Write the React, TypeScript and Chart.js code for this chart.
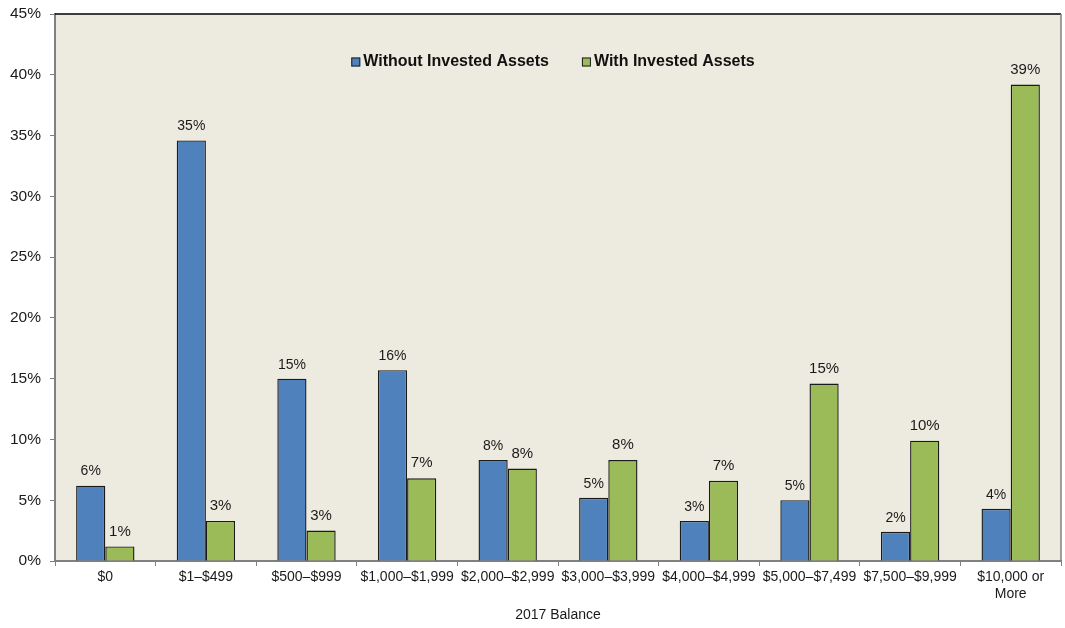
import { useEffect, useRef } from "react";
import { Chart, registerables } from "chart.js";

Chart.register(...registerables);

const categories: (string | string[])[] = [
  "$0",
  "$1–$499",
  "$500–$999",
  "$1,000–$1,999",
  "$2,000–$2,999",
  "$3,000–$3,999",
  "$4,000–$4,999",
  "$5,000–$7,499",
  "$7,500–$9,999",
  ["$10,000 or", "More"],
];

const withoutInvested = [6.2, 34.6, 15.0, 15.7, 8.3, 5.2, 3.3, 5.0, 2.4, 4.3];
const withInvested = [1.2, 3.3, 2.5, 6.8, 7.6, 8.3, 6.6, 14.6, 9.9, 39.2];

const seriesNames = ["Without Invested Assets", "With Invested Assets"];
const seriesColors = ["#4F81BD", "#9BBB59"];
const labelFontSizes = [14, 15];
const xTitle = "2017 Balance";

const FONT = '"Liberation Sans", Arial, Helvetica, sans-serif';

const backgroundPlugin = {
  id: "bgPlugin",
  beforeDraw(chart: any) {
    const { ctx, chartArea } = chart;
    ctx.save();
    ctx.fillStyle = "#EDEAE0";
    ctx.fillRect(chartArea.left, chartArea.top, chartArea.right - chartArea.left, chartArea.bottom - chartArea.top);
    ctx.restore();
  },
  afterDraw(chart: any) {
    const { ctx, chartArea } = chart;
    ctx.save();
    ctx.strokeStyle = "#000000";
    ctx.lineWidth = 1.5;
    ctx.beginPath();
    ctx.moveTo(chartArea.left, chartArea.top);
    ctx.lineTo(chartArea.right, chartArea.top);
    ctx.stroke();
    ctx.strokeStyle = "#808080";
    ctx.lineWidth = 1.5;
    ctx.beginPath();
    ctx.moveTo(chartArea.right, chartArea.top);
    ctx.lineTo(chartArea.right, chartArea.bottom);
    ctx.stroke();
    ctx.restore();
  },
};

const labelsPlugin = {
  id: "labelsPlugin",
  afterDatasetsDraw(chart: any) {
    const { ctx } = chart;
    ctx.save();
    ctx.fillStyle = "#1a1a1a";
    ctx.textAlign = "center";
    ctx.textBaseline = "middle";
    chart.data.datasets.forEach((ds: any, di: number) => {
      const meta = chart.getDatasetMeta(di);
      const size = labelFontSizes[di];
      ctx.font = `${size}px ${FONT}`;
      meta.data.forEach((bar: any, i: number) => {
        const v = ds.data[i];
        const offset = di === 0 ? 14 : 15;
        ctx.fillText(Math.round(v) + "%", bar.x, bar.y - offset);
      });
    });
    ctx.restore();
  },
};

const legendPlugin = {
  id: "legendPlugin",
  afterDraw(chart: any) {
    const { ctx, chartArea } = chart;
    ctx.save();
    ctx.font = `bold 16px ${FONT}`;
    ctx.textBaseline = "middle";
    ctx.textAlign = "left";
    const box = 9;
    const gapBoxText = 3;
    const itemGap = 33;
    const widths = seriesNames.map((n) => ctx.measureText(n).width);
    const total = widths.reduce((a, w) => a + box + gapBoxText + w, 0) + itemGap * (seriesNames.length - 1);
    let x = (chartArea.left + chartArea.right) / 2 - 5 - total / 2;
    const y = 62;
    seriesNames.forEach((name, i) => {
      ctx.fillStyle = seriesColors[i];
      ctx.fillRect(x, y - box / 2, box, box);
      ctx.strokeStyle = "#1f1f1f";
      ctx.lineWidth = 1;
      ctx.strokeRect(x + 0.5, y - box / 2 + 0.5, box - 1, box - 1);
      ctx.fillStyle = "#111111";
      ctx.fillText(name, x + box + gapBoxText, y);
      x += box + gapBoxText + widths[i] + itemGap;
    });
    ctx.restore();
  },
};

export default function App() {
  const canvasRef = useRef<HTMLCanvasElement | null>(null);

  useEffect(() => {
    if (!canvasRef.current) return;
    const chart = new Chart(canvasRef.current, {
      type: "bar",
      data: {
        labels: categories as any,
        datasets: [
          {
            label: seriesNames[0],
            data: withoutInvested,
            backgroundColor: seriesColors[0],
            borderColor: "#1a1a1a",
            borderWidth: 1.4,
            barPercentage: 1,
            categoryPercentage: 0.58,
          },
          {
            label: seriesNames[1],
            data: withInvested,
            backgroundColor: seriesColors[1],
            borderColor: "#1a1a1a",
            borderWidth: 1.4,
            barPercentage: 1,
            categoryPercentage: 0.58,
          },
        ],
      },
      options: {
        responsive: false,
        animation: false,
        layout: { padding: { left: 0, right: 4, top: 14, bottom: 0 } },
        plugins: {
          legend: { display: false },
          tooltip: { enabled: false },
        },
        scales: {
          x: {
            type: "category",
            offset: true,
            grid: {
              display: true,
              drawOnChartArea: false,
              drawTicks: true,
              tickLength: 5,
              color: "#808080",
              lineWidth: 1,
              offset: true,
            },
            border: { display: true, color: "#808080", width: 2 },
            ticks: {
              color: "#1a1a1a",
              font: { family: FONT, size: 14 },
              padding: 3,
              maxRotation: 0,
              minRotation: 0,
              autoSkip: false,
            },
            title: {
              display: true,
              text: xTitle,
              color: "#1a1a1a",
              font: { family: FONT, size: 14 },
              padding: { top: 0, bottom: 4 },
            },
            afterFit(scale: any) {
              scale.height = 67;
            },
          },
          y: {
            min: 0,
            max: 45,
            grid: {
              display: true,
              drawOnChartArea: false,
              drawTicks: true,
              tickLength: 5,
              color: "#808080",
              lineWidth: 1,
            },
            border: { display: true, color: "#808080", width: 2 },
            ticks: {
              stepSize: 5,
              color: "#1a1a1a",
              font: { family: FONT, size: 15.5 },
              padding: 9,
              callback: (v: any) => v + "%",
            },
            afterFit(scale: any) {
              scale.width = 55;
              scale.paddingTop = 0;
              scale.paddingBottom = 0;
            },
          },
        },
      },
      plugins: [backgroundPlugin, labelsPlugin, legendPlugin],
    });
    return () => chart.destroy();
  }, []);

  return (
    <div style={{ position: "fixed", left: 0, top: 0, width: 1065, height: 628, background: "#ffffff" }}>
      <canvas ref={canvasRef} width={1065} height={628} style={{ display: "block" }} />
    </div>
  );
}
